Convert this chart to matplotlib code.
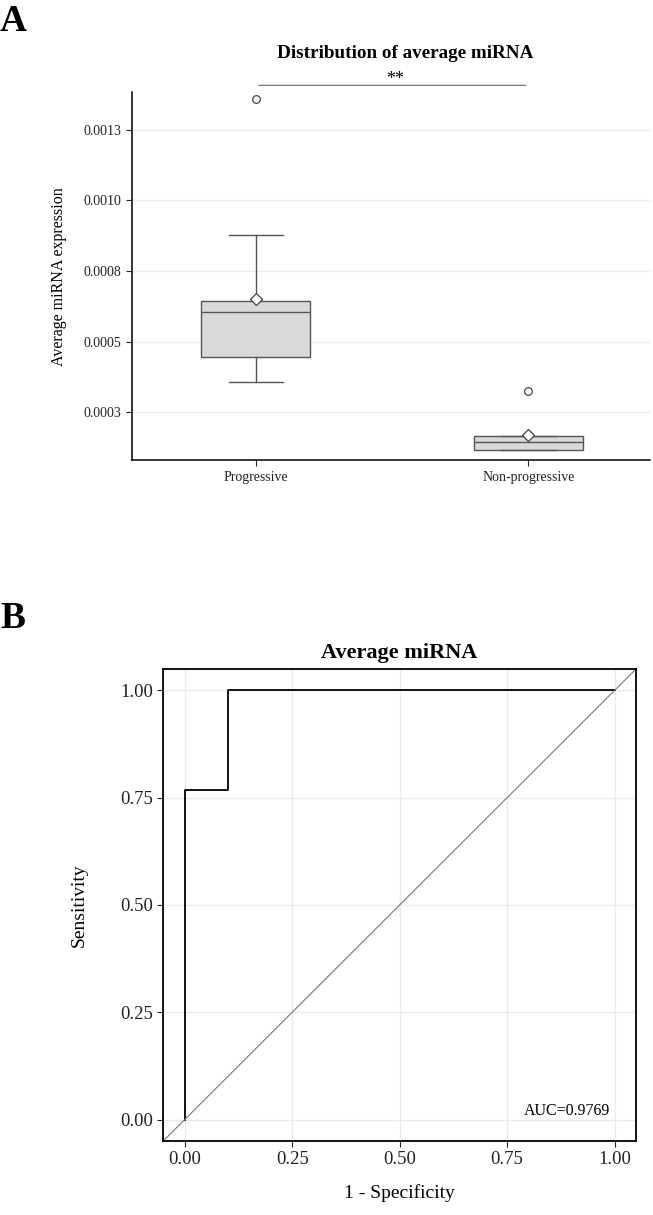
import matplotlib
matplotlib.use("Agg")
import matplotlib.pyplot as plt

plt.rcParams['font.family'] = ['Liberation Serif', 'DejaVu Serif']

# panel A: box plot summary values
groups = ["Progressive", "Non-progressive"]
q1 = [0.000446, 0.000116]
med = [0.000606, 0.000145]
q3 = [0.000644, 0.000165]
whislo = [0.000356, 0.000116]
whishi = [0.000877, 0.000165]
means = [0.000650, 0.000169]
outliers = [[0.001361], [0.000324]]
yticks_a = [0.00025, 0.0005, 0.00075, 0.001, 0.00125]
yticklabels_a = ["0.0003", "0.0005", "0.0008", "0.0010", "0.0013"]

# panel B: ROC curve
fpr = [0.0, 0.0, 0.1, 0.1, 1.0]
tpr = [0.0, 0.769, 0.769, 1.0, 1.0]
auc = 0.9769
ticks_b = [0.0, 0.25, 0.5, 0.75, 1.0]


fig = plt.figure(figsize=(6.53, 12.15), dpi=100)

# ---- A ----
ax = fig.add_axes([0.202, 0.621, 0.793, 0.303])
stats = []
for i in range(len(groups)):
	stats.append(dict(q1=q1[i], med=med[i], q3=q3[i], whislo=whislo[i],
		whishi=whishi[i], mean=means[i], fliers=outliers[i], label=groups[i]))

ax.bxp(stats, positions=[1, 2], widths=0.4, capwidths=0.2, showmeans=True,
	patch_artist=True,
	boxprops=dict(facecolor="#d9d9d9", edgecolor="#555555", linewidth=1.0),
	medianprops=dict(color="#555555", linewidth=1.0),
	whiskerprops=dict(color="#555555", linewidth=1.0),
	capprops=dict(color="#555555", linewidth=1.0),
	meanprops=dict(marker="D", markerfacecolor="white", markeredgecolor="#444444",
		markersize=6.5, markeredgewidth=0.9),
	flierprops=dict(marker="o", markerfacecolor="none", markeredgecolor="#444444",
		markersize=5.5, markeredgewidth=0.9))

ax.set_xlim(0.545, 2.445)
ax.set_ylim(0.000079, 0.001383)
ax.set_yticks(yticks_a)
ax.set_yticklabels(yticklabels_a)
ax.tick_params(axis="both", labelsize=10, colors="#222222", length=4)
ax.grid(axis="y", color="#ececec", linewidth=1.0)
ax.set_axisbelow(True)
for s in ["top", "right"]:
	ax.spines[s].set_visible(False)
for s in ["left", "bottom"]:
	ax.spines[s].set_linewidth(1.1)
ax.set_ylabel("Average miRNA expression", fontsize=11.5, labelpad=12)
ax.set_title("Distribution of average miRNA", fontsize=13.8, fontweight="bold",
	pad=25, x=0.527)

# significance bar
ax.annotate("", xy=(1, 1.019), xytext=(2, 1.019), xycoords=("data", "axes fraction"),
	arrowprops=dict(arrowstyle="-", color="#777777", linewidth=0.9), annotation_clip=False)
ax.text(1.51, 1.013, "**", transform=ax.get_xaxis_transform(), ha="center", va="bottom",
	fontsize=13)

fig.text(0.0, 0.997, "A", fontsize=27, fontweight="bold", va="top", ha="left")

# ---- B ----
bx = fig.add_axes([0.250, 0.0609, 0.724, 0.3885])
bx.plot(fpr, tpr, color="black", linewidth=1.3)
bx.axline((0, 0), slope=1, color="#777777", linewidth=0.8)
bx.set_xlim(-0.05, 1.05)
bx.set_ylim(-0.05, 1.05)
bx.set_xticks(ticks_b)
bx.set_yticks(ticks_b)
bx.set_xticklabels(["%.2f" % t for t in ticks_b])
bx.set_yticklabels(["%.2f" % t for t in ticks_b])
bx.tick_params(axis="both", labelsize=13.5, colors="#222222", length=4)
bx.grid(color="#ebebeb", linewidth=1.0)
bx.set_axisbelow(True)
for s in bx.spines.values():
	s.set_linewidth(1.3)
bx.text(0.99, 0.02, "AUC=%.4f" % auc, ha="right", va="center", fontsize=11.5)
bx.set_xlabel("1 - Specificity", fontsize=14, labelpad=11)
bx.set_ylabel("Sensitivity", fontsize=14, labelpad=23)
bx.set_title("Average miRNA", fontsize=16, fontweight="bold", pad=8)

fig.text(0.0, 0.505, "B", fontsize=27, fontweight="bold", va="top", ha="left")

fig.savefig("out.png", dpi=100)
